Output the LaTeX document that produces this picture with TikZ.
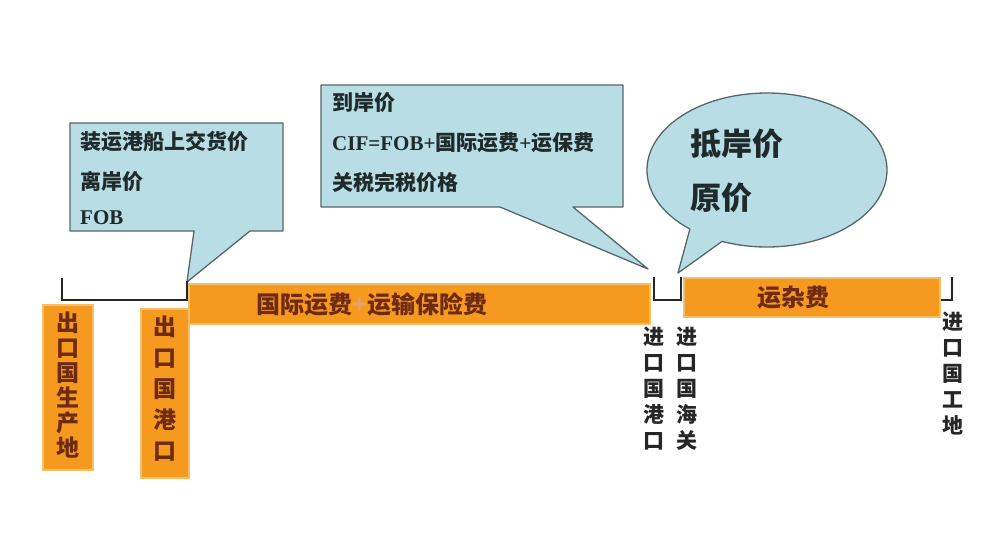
\documentclass[tikz,border=0pt]{standalone}
\usepackage{fontspec}
\newfontfamily\cjk{Noto Sans CJK SC}
\newfontfamily\lat{Liberation Serif}
\definecolor{cfill}{HTML}{B9DDE5}
\definecolor{cdraw}{HTML}{55676A}
\definecolor{obar}{HTML}{F59A1E}
\definecolor{oedge}{HTML}{F2C068}
\definecolor{btext}{HTML}{6E2A12}
\definecolor{ctext}{HTML}{1F2A2A}
\definecolor{plusc}{HTML}{E8A060}
\begin{document}
\begin{tikzpicture}[x=1pt,y=-1pt,
  callout/.style={fill=cfill,draw=cdraw,line width=1.3pt,line join=round},
  bar/.style={fill=obar,draw=oedge,line width=1.5pt},
  bracket/.style={draw=black!85,line width=2pt},
  ctxt/.style={anchor=west,inner sep=0pt,text=ctext,font=\cjk\bfseries\fontsize{21}{24}\selectfont},
  btxt/.style={inner sep=0pt,text=btext,font=\cjk\bfseries\fontsize{24}{26}\selectfont},
  vtxtA/.style={inner sep=0pt,align=center,text=btext,font=\cjk\bfseries\fontsize{23}{25}\selectfont,anchor=north},
  vtxtB/.style={inner sep=0pt,align=center,text=btext,font=\cjk\bfseries\fontsize{23}{31}\selectfont,anchor=north},
  vtxtC/.style={inner sep=0pt,align=center,text=black!85,font=\cjk\bfseries\fontsize{21}{26}\selectfont,anchor=north}]
\useasboundingbox[fill=white] (0,0) rectangle (1000,535);

% callout 1
\draw[callout] (70,123) -- (283,123) -- (283,231) -- (250,231) -- (187,282) -- (194,231) -- (70,231) -- cycle;
\node[ctxt] (c1a) at (80,142) {装运港船上交货价};
\node[ctxt] (c1b) at (80,181) {离岸价};
\node[ctxt] (c1c) at (80,218) {\lat\bfseries FOB};

% callout 2
\draw[callout] (321,85) -- (623,85) -- (623,207) -- (573,207) -- (648,269) -- (500,207) -- (321,207) -- cycle;
\node[ctxt] (c2a) at (332,103) {到岸价};
\node[ctxt] (c2b) at (332,143) {{\lat\bfseries CIF=FOB+}国际运费{\lat\bfseries +}运保费};
\node[ctxt] (c2c) at (332,182) {关税完税价格};

% ellipse callout
\draw[callout] (767,170) ++(130:120 and 77) arc[start angle=130,end angle=472,x radius=120,y radius=77] -- (678,273) -- cycle;
\node[ctxt,font=\cjk\bfseries\fontsize{31}{34}\selectfont] (c3a) at (690,144) {抵岸价};
\node[ctxt,font=\cjk\bfseries\fontsize{31}{34}\selectfont] (c3b) at (690,198) {原价};

% brackets
\draw[bracket] (62,278) -- (62,300) -- (187,300) -- (187,281);
\draw[bracket] (654,277) -- (654,300) -- (681,300) -- (681,277);
\draw[bracket] (940,300) -- (952,300) -- (952,277);

% orange bars
\draw[bar] (189,284) rectangle (650,324);
\node[btxt] (b1) at (372,304) {国际运费{\color{plusc}+}运输保险费};
\draw[bar] (684,278) rectangle (940,317);
\node[btxt] (b2) at (793,298) {运杂费};

% vertical orange boxes
\draw[bar] (43,305) rectangle (93,470);
\node[vtxtA] (v1) at (68,312) {出\\口\\国\\生\\产\\地};
\draw[bar] (141,309) rectangle (189,478);
\node[vtxtB] (v2) at (165,316) {出\\口\\国\\港\\口};

% vertical labels
\node[vtxtC] (v3) at (654,327) {进\\口\\国\\港\\口};
\node[vtxtC] (v4) at (687,327) {进\\口\\国\\海\\关};
\node[vtxtC] (v5) at (953,312) {进\\口\\国\\工\\地};
\end{tikzpicture}
\end{document}
